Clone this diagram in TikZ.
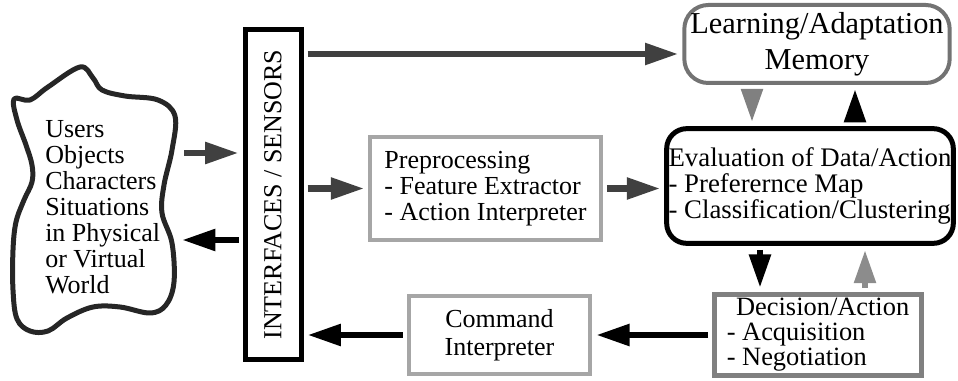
\documentclass[tikz,border=0pt]{standalone}
\usepackage{fontspec}
\setmainfont{Liberation Serif}
\usepackage{graphicx}
\usetikzlibrary{arrows.meta,calc}

\begin{document}
\begin{tikzpicture}[x=0.75pt, y=-0.75pt,
  every node/.style={font=\fontsize{19.5pt}{19.5pt}\selectfont, inner sep=0pt},
  box/.style={draw, line width=3pt, align=left},
  fat/.style={line width=4.8pt, -{Triangle[length=25pt,width=15.5pt]},
              shorten <=3pt, shorten >=3pt}]
  \useasboundingbox (0,0) rectangle (958,381);

  % the world outside
  \draw[line width=3.75pt, black!85, line join=round]
    plot[smooth cycle, tension=0.6] coordinates {
      (14,99) (30,100) (48,87) (80,67) (93,78) (102,90) (125,96)
      (158,100) (175,116) (172,150) (164,185) (162,213) (172,243)
      (174,282) (166,305) (150,313) (120,307) (93,307) (67,318)
      (48,331) (30,331) (17,319) (13,290) (13,250) (16,222) (24,200)
      (32,182) (32,165) (26,145) (17,120)};
  \node[anchor=west, align=left] (world) at (45,207)
    {Users\\Objects\\Characters\\Situations\\in Physical\\or Virtual\\World};

  % boxes
  \node[box, line width=3.75pt, minimum width=42pt, minimum height=248pt]
    (iface) at (273,194.5) {\rotatebox{90}{INTERFACES / SENSORS}};
  \node[box, draw=black!35, minimum width=173pt, minimum height=77pt]
    (prep) at (485.5,188.5) {Preprocessing\\- Feature Extractor\\- Action Interpreter};
  \node[box, draw=black!55, rounded corners=18pt, align=center,
        minimum width=199pt, minimum height=58.5pt,
        font=\fontsize{22.8pt}{27pt}\selectfont]
    (learn) at (817,44) {Learning/Adaptation\\Memory};
  \node[box, line width=3.75pt, rounded corners=15pt,
        minimum width=215pt, minimum height=86pt,
        font=\fontsize{20.1pt}{19.4pt}\selectfont]
    (eval) at (810,186)
    {Evaluation of Data/Action\\- Preferernce Map\\- Classification/Clustering};
  \node[box, draw=black!50, line width=3.75pt, minimum width=155pt, minimum height=61pt,
        font=\fontsize{19.8pt}{18.8pt}\selectfont]
    (decide) at (818,335) {\hspace*{7pt}Decision/Action\\- Acquisition\\- Negotiation};
  \node[box, draw=black!35, align=center, minimum width=136pt, minimum height=58.5pt]
    (cmd) at (499.5,335) {Command\\[1.5pt]Interpreter};

  % connectors
  \coordinate (worldout) at (180,153);
  \coordinate (worldin) at (178,240);
  \coordinate (learnin) at ($(learn.west)+(0,10)$);
  \coordinate (down1) at (752,0);
  \coordinate (up1) at (855,0);
  \coordinate (down2) at (760,0);
  \coordinate (up2) at (865,0);

  \draw[fat, black!75] (worldout) -- (worldout -| iface.west);
  \draw[fat] (iface.west |- worldin) -- (worldin);
  \draw[fat, black!75] (iface.east |- learnin) -- (learnin);
  \draw[fat, black!75] (iface.east |- prep.west) -- (prep.west);
  \draw[fat, black!75] (prep.east) -- (prep.east -| eval.west);
  \draw[fat, black!50] (learn.south -| down1) -- (eval.north -| down1);
  \draw[fat] (eval.north -| up1) -- (learn.south -| up1);
  \draw[fat] (eval.south -| down2) -- (decide.north -| down2);
  \draw[fat, black!45] (decide.north -| up2) -- (eval.south -| up2);
  \draw[fat] (decide.west) -- (decide.west -| cmd.east);
  \draw[fat] (cmd.west) -- (cmd.west -| iface.east);
\end{tikzpicture}
\end{document}
